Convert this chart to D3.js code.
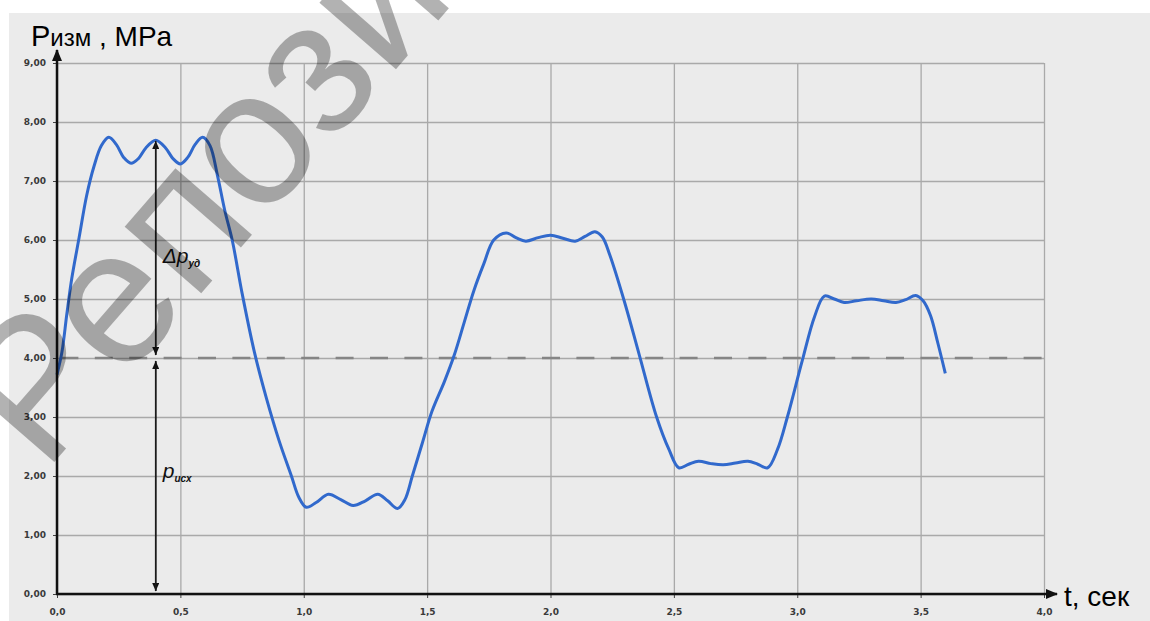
<!DOCTYPE html>
<html lang="ru">
<head>
<meta charset="UTF-8">
<title>Pизм, MPa</title>
<script src="https://d3js.org/d3.v7.min.js"></script>
<style>
  body { margin: 0; background: #fff; }
  svg { display: block; }
</style>
</head>
<body>
<div id="chart"></div>
<script>
// values
let time = [0.00, 0.02, 0.04, 0.06, 0.09, 0.12, 0.15, 0.18, 0.21, 0.24, 0.27, 0.30, 0.33, 0.36, 0.40,
            0.44, 0.47, 0.50, 0.53, 0.56, 0.59, 0.62, 0.65, 0.68, 0.71, 0.75, 0.80, 0.85, 0.90, 0.95,
            0.98, 1.01, 1.05, 1.10, 1.15, 1.20, 1.25, 1.30, 1.34, 1.38, 1.41, 1.44, 1.48, 1.52, 1.57,
            1.61, 1.65, 1.69, 1.73, 1.77, 1.82, 1.86, 1.90, 1.95, 2.00, 2.05, 2.10, 2.14, 2.18, 2.21,
            2.24, 2.30, 2.36, 2.43, 2.48, 2.52, 2.56, 2.60, 2.65, 2.70, 2.75, 2.80, 2.84, 2.88, 2.92,
            2.96, 3.02, 3.07, 3.11, 3.15, 3.19, 3.24, 3.30, 3.35, 3.40, 3.44, 3.48, 3.51, 3.54, 3.57,
            3.60]
let pressure = [3.72, 4.10, 4.75, 5.35, 6.05, 6.75, 7.25, 7.60, 7.74, 7.62, 7.40, 7.30, 7.38, 7.56, 7.69,
                7.56, 7.38, 7.29, 7.40, 7.62, 7.74, 7.60, 7.10, 6.50, 6.00, 5.10, 4.10, 3.30, 2.60, 2.00,
                1.64, 1.47, 1.55, 1.69, 1.60, 1.50, 1.58, 1.69, 1.58, 1.45, 1.60, 2.00, 2.55, 3.10, 3.60,
                4.05, 4.60, 5.15, 5.60, 6.00, 6.12, 6.04, 5.98, 6.04, 6.08, 6.03, 5.98, 6.06, 6.14, 6.05,
                5.75, 4.95, 4.05, 3.00, 2.45, 2.14, 2.20, 2.25, 2.21, 2.19, 2.22, 2.25, 2.20, 2.14, 2.45,
                3.00, 3.95, 4.70, 5.05, 5.00, 4.94, 4.97, 5.00, 4.97, 4.94, 4.99, 5.06, 4.97, 4.72, 4.25,
                3.74]

let xTicks = [0, 0.5, 1, 1.5, 2, 2.5, 3, 3.5, 4]
let xTickLabels = ["0,0", "0,5", "1,0", "1,5", "2,0", "2,5", "3,0", "3,5", "4,0"]
let yTicks = [0, 1, 2, 3, 4, 5, 6, 7, 8, 9]
let yTickLabels = ["0,00", "1,00", "2,00", "3,00", "4,00", "5,00", "6,00", "7,00", "8,00", "9,00"]

let baseLevel = 4          // p исх
let markT = 0.4            // where the double arrows stand
let markTop = 7.68         // top of Δp arrow

let width = 1150,
    height = 621,
    plotLeft = 57, plotRight = 1044, plotTop = 63, plotBottom = 594

let svg = d3.select("#chart")
  .append("svg")
    .attr("width", width)
    .attr("height", height)

let x = d3.scaleLinear().domain([0, 4]).range([plotLeft, plotRight])
let y = d3.scaleLinear().domain([0, 9]).range([plotBottom, plotTop])

// grey plot area
svg.append("rect")
  .attr("x", 9).attr("y", 13)
  .attr("width", width - 9).attr("height", height - 13)
  .attr("fill", "#ebebeb")

// arrow heads
let defs = svg.append("defs")
defs.append("marker")
    .attr("id", "axisArrow")
    .attr("markerUnits", "userSpaceOnUse")
    .attr("markerWidth", 12).attr("markerHeight", 10)
    .attr("refX", 11).attr("refY", 5)
    .attr("orient", "auto")
  .append("path")
    .attr("d", "M0,0 L12,5 L0,10 Z")
    .attr("fill", "#111")
defs.append("marker")
    .attr("id", "smallArrow")
    .attr("markerUnits", "userSpaceOnUse")
    .attr("markerWidth", 8).attr("markerHeight", 7)
    .attr("refX", 8).attr("refY", 3.5)
    .attr("orient", "auto")
  .append("path")
    .attr("d", "M0,0 L8,3.5 L0,7 Z")
    .attr("fill", "#111")

// grid
svg.append("g")
  .attr("transform", "translate(0," + plotBottom + ")")
  .call(d3.axisBottom(x).tickValues(xTicks).tickSize(-(plotBottom - plotTop)).tickFormat(""))
  .call(g => g.select(".domain").remove())
  .selectAll("line").attr("stroke", "#a9a9a9").attr("stroke-width", 1.3)

svg.append("g")
  .attr("transform", "translate(" + plotLeft + ",0)")
  .call(d3.axisLeft(y).tickValues(yTicks).tickSize(-(plotRight - plotLeft)).tickFormat(""))
  .call(g => g.select(".domain").remove())
  .selectAll("line").attr("stroke", "#a9a9a9").attr("stroke-width", 1.3)

// tick labels
let xAxis = svg.append("g")
  .attr("transform", "translate(0," + plotBottom + ")")
  .call(d3.axisBottom(x).tickValues(xTicks).tickSize(4).tickPadding(11)
        .tickFormat((d, i) => xTickLabels[i]))
xAxis.select(".domain").remove()

let yAxis = svg.append("g")
  .attr("transform", "translate(" + plotLeft + ",0)")
  .call(d3.axisLeft(y).tickValues(yTicks).tickSize(4).tickPadding(7)
        .tickFormat((d, i) => yTickLabels[i]))
yAxis.select(".domain").remove()

xAxis.selectAll("line").attr("stroke", "#444")
yAxis.selectAll("line").attr("stroke", "#444")
svg.selectAll(".tick text")
  .attr("font-family", "DejaVu Sans, sans-serif")
  .attr("font-weight", "bold")
  .attr("font-size", 9)
  .attr("fill", "#3a3a3a")

// dashed level line
svg.append("line")
  .attr("x1", x(0)).attr("x2", x(4))
  .attr("y1", y(baseLevel)).attr("y2", y(baseLevel))
  .attr("stroke", "#858585")
  .attr("stroke-width", 2.5)
  .attr("stroke-dasharray", "18,16.4")
  .attr("stroke-dashoffset", 31)

// pressure curve
let line = d3.line()
  .x((d, i) => x(time[i]))
  .y(d => y(d))
  .curve(d3.curveCatmullRom.alpha(0.5))

svg.append("path")
  .datum(pressure)
  .attr("d", line)
  .attr("fill", "none")
  .attr("stroke", "#3169cc")
  .attr("stroke-width", 3)

// axes with arrows
svg.append("line")
  .attr("x1", x(0)).attr("y1", y(0))
  .attr("x2", x(0)).attr("y2", y(9) - 13)
  .attr("stroke", "#111").attr("stroke-width", 2.5)
  .attr("marker-end", "url(#axisArrow)")
svg.append("line")
  .attr("x1", x(0) - 1).attr("y1", y(0))
  .attr("x2", x(4) + 13).attr("y2", y(0))
  .attr("stroke", "#111").attr("stroke-width", 2.5)
  .attr("marker-end", "url(#axisArrow)")

// Δp and p исх double arrows
let arrows = [[baseLevel + 0.05, markTop], [markTop - 0.05, baseLevel + 0.05],
              [baseLevel - 0.05, 0.05], [0.05, baseLevel - 0.05]]
svg.selectAll("line.mark")
  .data(arrows)
  .enter()
  .append("line")
    .attr("class", "mark")
    .attr("x1", x(markT)).attr("x2", x(markT))
    .attr("y1", d => y(d[0])).attr("y2", d => y(d[1]))
    .attr("stroke", "#1a1a1a")
    .attr("stroke-width", 1.5)
    .attr("marker-end", "url(#smallArrow)")

let labels = [{main: "Δp", sub: "уд", v: 5.61}, {main: "p", sub: "исх", v: 1.97}]
let lab = svg.selectAll("text.lab")
  .data(labels)
  .enter()
  .append("text")
    .attr("class", "lab")
    .attr("x", x(markT) + 7)
    .attr("y", d => y(d.v))
    .attr("font-family", "Liberation Sans, Arial, sans-serif")
    .attr("font-style", "italic")
    .attr("fill", "#111")
lab.append("tspan").attr("font-size", 21).text(d => d.main)
lab.append("tspan").attr("font-size", 10).attr("font-weight", "bold").attr("dy", 4).text(d => d.sub)

// axis titles
let yTitle = svg.append("text")
  .attr("x", 31).attr("y", 46)
  .attr("font-family", "Liberation Sans, Arial, sans-serif")
  .attr("fill", "#000")
yTitle.append("tspan").attr("font-size", 29).text("P")
yTitle.append("tspan").attr("font-size", 24).text("изм")
yTitle.append("tspan").attr("font-size", 28).text(" , MPa")

svg.append("text")
  .attr("x", 1064).attr("y", 606)
  .attr("font-family", "Liberation Sans, Arial, sans-serif")
  .attr("font-size", 28)
  .attr("fill", "#000")
  .text("t, сек")

// watermark
svg.append("text")
  .attr("transform", "translate(44,474) rotate(-49)")
  .attr("font-family", "Liberation Sans, Arial, sans-serif")
  .attr("font-size", 192)
  .attr("fill", "rgba(0,0,0,0.3)")
  .text("Репозиторий")
</script>
</body>
</html>
